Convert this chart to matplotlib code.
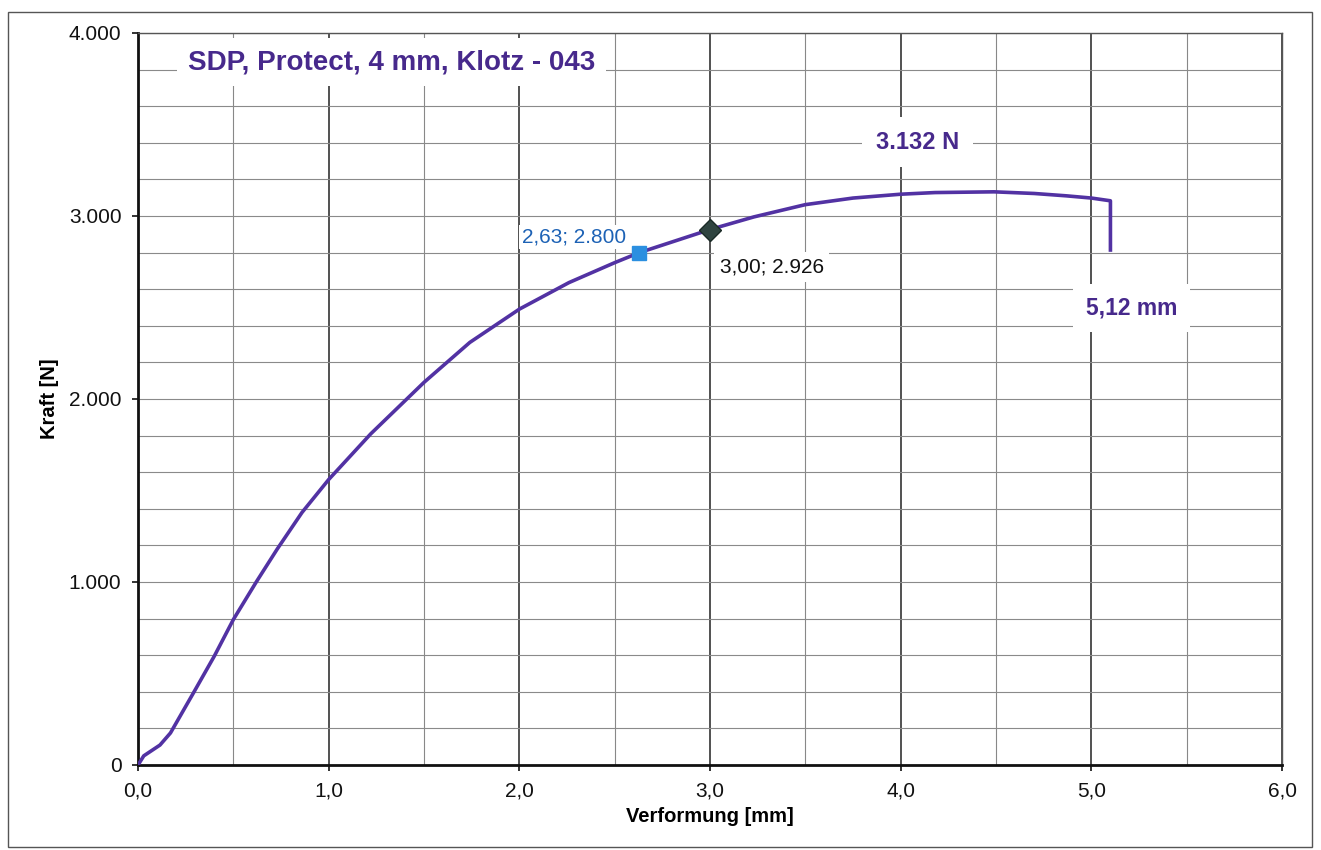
"""Force-deformation curve of a block test, redrawn with matplotlib."""

import matplotlib

matplotlib.use("Agg")  # MUST be before pyplot import
import matplotlib.pyplot as plt
from matplotlib.patches import Rectangle
from matplotlib.ticker import FuncFormatter, MultipleLocator

plt.rcParams["font.family"] = ["Liberation Sans", "DejaVu Sans"]

deformation_mm = [0.00, 0.03, 0.115, 0.17, 0.29, 0.40, 0.50, 0.62, 0.73, 0.86,
                  1.00, 1.22, 1.50, 1.74, 2.00, 2.26, 2.50, 2.63, 3.00, 3.23,
                  3.50, 3.75, 4.00, 4.18, 4.49, 4.70, 4.87, 5.00, 5.10, 5.10]
force_n = [0, 50, 109, 175, 393, 595, 795, 1000, 1180, 1380,
           1560, 1809, 2091, 2309, 2491, 2636, 2745, 2800, 2926, 2995,
           3062, 3098, 3119, 3128, 3132, 3123, 3110, 3098, 3083, 2814]

# highlighted points
square_point = (2.63, 2800)
diamond_point = (3.00, 2926)
max_force = 3132
max_deformation = 5.12

TITLE = "SDP, Protect, 4 mm, Klotz - 043"
CURVE_COLOR = "#5232a3"
TEXT_PURPLE = "#47298c"


def de_int(v, pos):
    """German thousands separator: 3000 -> 3.000"""
    return f"{int(round(v)):,}".replace(",", ".")


def de_one(v, pos):
    return f"{v:.1f}".replace(".", ",")


fig = plt.figure(figsize=(13.21, 8.5), dpi=100)
ax = fig.add_axes([0.1045, 0.1, 0.866, 0.8612])

# outer frame around the whole chart
fig.patches.append(Rectangle((0.006, 0.004), 0.987, 0.982, transform=fig.transFigure,
                             fill=False, edgecolor="#555555", linewidth=1.0))

ax.set_xlim(0, 6)
ax.set_ylim(0, 4000)
ax.xaxis.set_major_locator(MultipleLocator(1.0))
ax.xaxis.set_minor_locator(MultipleLocator(0.5))
ax.yaxis.set_major_locator(MultipleLocator(1000))
ax.yaxis.set_minor_locator(MultipleLocator(200))
ax.xaxis.set_major_formatter(FuncFormatter(de_one))
ax.yaxis.set_major_formatter(FuncFormatter(de_int))

ax.grid(True, which="major", axis="x", color="#222222", linewidth=1.1)
ax.grid(True, which="minor", axis="x", color="#888888", linewidth=0.8)
ax.grid(True, which="both", axis="y", color="#8a8a8a", linewidth=0.8)
ax.set_axisbelow(True)

ax.tick_params(axis="both", which="major", direction="out", length=4, width=1.2,
               pad=8, labelsize=15, colors="#111111")
ax.tick_params(axis="both", which="minor", length=0)

for side in ("left", "bottom"):
    ax.spines[side].set_linewidth(2.0)
    ax.spines[side].set_color("#111111")
for side in ("top", "right"):
    ax.spines[side].set_linewidth(1.0)
    ax.spines[side].set_color("#555555")

ax.set_xlabel("Verformung [mm]", fontsize=14.5, fontweight="bold")
ax.set_ylabel("Kraft [N]", fontsize=14.5, fontweight="bold")
ax.xaxis.set_label_coords(0.5, -0.058)
ax.yaxis.set_label_coords(-0.069, 0.5)

ax.plot(deformation_mm, force_n, color=CURVE_COLOR, linewidth=2.6,
        solid_joinstyle="round", zorder=3)

ax.plot(*square_point, marker="s", markersize=10, color="#2b8fe0",
        markeredgecolor="#2b8fe0", zorder=4)
ax.plot(*diamond_point, marker="D", markersize=11, color="#2f4440",
        markeredgecolor="#1a2a26", zorder=4)

ax.text(square_point[0] - 0.07, square_point[1] + 85,
        f"{square_point[0]:.2f}".replace(".", ",") + "; " + de_int(square_point[1], None),
        ha="right", va="center", fontsize=15, color="#1d62b5",
        bbox=dict(facecolor="white", edgecolor="none", pad=2), zorder=5)
ax.text(diamond_point[0] + 0.05, diamond_point[1] - 205,
        f"{diamond_point[0]:.2f}".replace(".", ",") + "; " + de_int(diamond_point[1], None),
        ha="left", va="center", fontsize=15, color="#111111",
        bbox=dict(facecolor="white", edgecolor="none", pad=4), zorder=5)

ax.text(0.26, 3840, TITLE, ha="left", va="center", fontsize=20,
        fontweight="bold", color=TEXT_PURPLE,
        bbox=dict(facecolor="white", edgecolor="none", pad=8), zorder=5)
ax.text(4.09, 3404, f"{de_int(max_force, None)} N", ha="center", va="center",
        fontsize=17, fontweight="bold", color=TEXT_PURPLE,
        bbox=dict(facecolor="white", edgecolor="none", pad=10), zorder=5)
ax.text(5.21, 2497, f"{max_deformation:.2f}".replace(".", ",") + " mm",
        ha="center", va="center", fontsize=16.5, fontweight="bold",
        color=TEXT_PURPLE,
        bbox=dict(facecolor="white", edgecolor="none", pad=9), zorder=5)

fig.savefig("out.png", dpi=100)
plt.close(fig)
